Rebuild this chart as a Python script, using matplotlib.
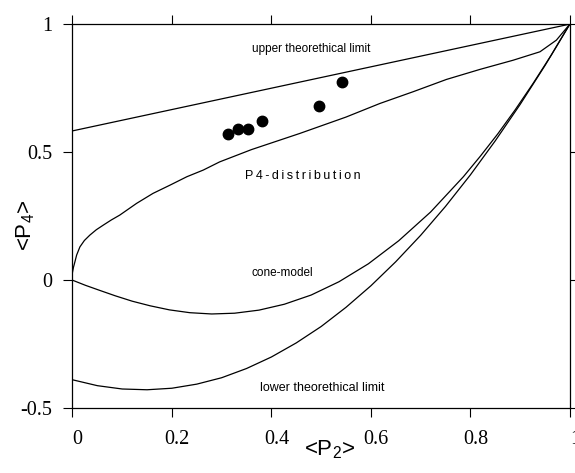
"""
Order parameters <P4> versus <P2> with theoretical limits and model curves
"""

import matplotlib
matplotlib.use('Agg')
import matplotlib.pyplot as plt
from matplotlib.transforms import ScaledTranslation

# upper theoretical limit
upper_x = [0.0, 1.0]
upper_y = [0.583, 1.0]

# lower theoretical limit
lower_x = [0.0, 0.05, 0.1, 0.15, 0.2, 0.25, 0.3, 0.35, 0.4, 0.45, 0.5,
           0.55, 0.6, 0.65, 0.7, 0.75, 0.8, 0.85, 0.9, 0.95, 1.0]
lower_y = [-0.389, -0.412, -0.425, -0.428, -0.422, -0.406, -0.381, -0.345,
           -0.300, -0.245, -0.181, -0.106, -0.022, 0.072, 0.175, 0.288,
           0.411, 0.544, 0.686, 0.838, 1.0]

# cone model
cone_x = [0.0, 0.026, 0.055, 0.086, 0.12, 0.156, 0.195, 0.236, 0.28,
          0.326, 0.375, 0.426, 0.48, 0.536, 0.595, 0.656, 0.72, 0.786,
          0.820, 0.855, 0.890, 0.926, 0.963, 1.0]
cone_y = [0.0, -0.020, -0.040, -0.061, -0.082, -0.100, -0.116, -0.127,
          -0.132, -0.129, -0.117, -0.094, -0.058, -0.006, 0.064, 0.154,
          0.266, 0.404, 0.484, 0.571, 0.665, 0.768, 0.880, 1.0]

# P4-distribution
p4d_x = [0.0, 0.002, 0.005, 0.0084, 0.015, 0.024, 0.035, 0.048, 0.062,
         0.078, 0.095, 0.129, 0.162, 0.196, 0.230, 0.263, 0.296, 0.36,
         0.457, 0.55, 0.618, 0.685, 0.752, 0.819, 0.886, 0.940, 0.973, 1.0]
p4d_y = [0.03, 0.050, 0.072, 0.098, 0.13, 0.155, 0.176, 0.197, 0.215,
         0.235, 0.254, 0.300, 0.339, 0.371, 0.404, 0.430, 0.462, 0.51,
         0.573, 0.637, 0.690, 0.736, 0.784, 0.823, 0.859, 0.892, 0.9375, 1.0]

# measured points
meas_p2 = [0.312, 0.333, 0.353, 0.382, 0.495, 0.541]
meas_p4 = [0.570, 0.590, 0.590, 0.622, 0.682, 0.775]

xticks = [0, 0.2, 0.4, 0.6, 0.8, 1]
xtick_labels = ['0', '0.2', '0.4', '0.6', '0.8', '1']
yticks = [-0.5, 0, 0.5, 1]
ytick_labels = ['-0.5', '0', '0.5', '1']

plt.rcParams['mathtext.default'] = 'regular'

fig = plt.figure(figsize=(5.75, 4.73), dpi=100)
ax = fig.add_axes([0.126, 0.137, 0.865, 0.812])

lw = 0.9
for xs, ys in [(upper_x, upper_y), (lower_x, lower_y),
               (cone_x, cone_y), (p4d_x, p4d_y)]:
    ax.plot(xs, ys, color='black', lw=lw, solid_joinstyle='round')
ax.plot(meas_p2, meas_p4, 'o', color='black', markersize=7.5)

ax.set_xlim(0, 1)
ax.set_ylim(-0.5, 1)

ax.set_xticks(xticks)
ax.set_xticklabels(xtick_labels, family='Liberation Serif', fontsize=14.5)
ax.set_yticks(yticks)
ax.set_yticklabels(ytick_labels, family='Liberation Serif', fontsize=14.5)
ax.tick_params(direction='out', length=6.5, width=0.8, top=True, right=True)
ax.tick_params(axis='x', pad=9)
ax.tick_params(axis='y', pad=8)

# tick labels sit a little right of their ticks in the original
offset = ScaledTranslation(5 / 100, 0, fig.dpi_scale_trans)
for lab in ax.get_xticklabels():
    lab.set_transform(lab.get_transform() + offset)

for sp in ax.spines.values():
    sp.set_linewidth(0.9)

sans = ['Liberation Sans', 'DejaVu Sans']
ax.text(0.481, 0.902, 'upper theorethical limit', family=sans, fontsize=8.5,
        ha='center', va='center')
ax.text(0.464, 0.406, '\u2009'.join('P4-distribution'), family=sans,
        fontsize=9, ha='center', va='center')
ax.text(0.421, 0.027, 'cone-model', family=sans, fontsize=8.5,
        ha='center', va='center')
ax.text(0.503, -0.422, 'lower theorethical limit', family=sans, fontsize=9,
        ha='center', va='center')

ax.text(-0.093, 0.477, '<P$_4$>', family=sans, fontsize=16, rotation=90,
        ha='center', va='center', transform=ax.transAxes)
ax.text(0.518, -0.107, '<P$_2$>', family=sans, fontsize=16,
        ha='center', va='center', transform=ax.transAxes)

fig.savefig('out.png', dpi=100)
